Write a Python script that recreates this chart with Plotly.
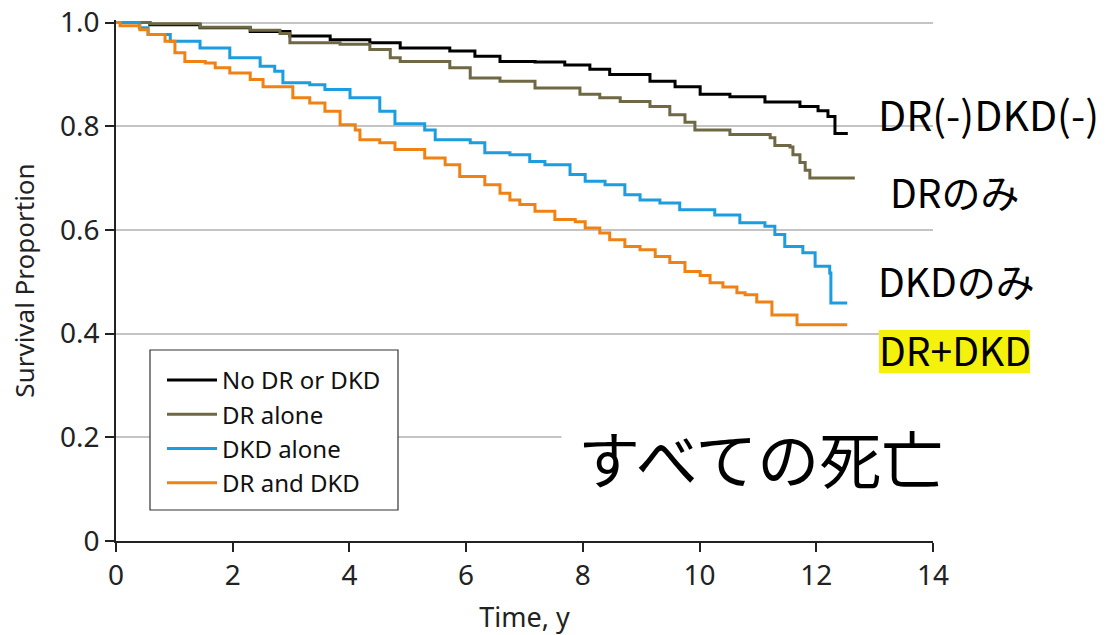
import plotly.graph_objects as go

# ---- data ----
t_none = [0, 0.58, 1.44, 2.30, 2.98, 3.67, 4.35, 4.87, 5.72, 6.15, 6.58, 7.18, 7.69, 8.12, 8.46, 9.15, 9.58, 10.01, 10.52, 11.12, 11.72, 12.03, 12.20, 12.32, 12.54]
s_none = [1.0, 0.996, 0.990, 0.983, 0.974, 0.967, 0.961, 0.951, 0.945, 0.935, 0.925, 0.924, 0.918, 0.910, 0.900, 0.887, 0.876, 0.862, 0.857, 0.847, 0.838, 0.830, 0.819, 0.786, 0.786]

t_dr = [0, 0.58, 1.44, 2.30, 2.81, 2.98, 3.84, 4.35, 4.70, 4.87, 5.72, 6.07, 6.58, 7.18, 7.87, 7.95, 8.29, 8.64, 9.15, 9.49, 9.75, 9.92, 10.52, 11.21, 11.29, 11.55, 11.60, 11.72, 11.81, 11.89, 12.66]
s_dr = [1.0, 0.998, 0.991, 0.985, 0.979, 0.961, 0.958, 0.948, 0.932, 0.925, 0.913, 0.893, 0.887, 0.874, 0.874, 0.862, 0.855, 0.848, 0.838, 0.822, 0.808, 0.793, 0.784, 0.778, 0.763, 0.760, 0.745, 0.730, 0.715, 0.700, 0.700]

t_dkd = [0, 0.40, 0.55, 0.93, 1.44, 1.95, 2.47, 2.72, 2.86, 3.32, 3.58, 4.01, 4.52, 4.78, 5.29, 5.47, 6.07, 6.32, 6.75, 7.09, 7.35, 7.78, 8.04, 8.38, 8.72, 8.98, 9.32, 9.66, 10.26, 10.69, 11.12, 11.29, 11.46, 11.77, 11.98, 12.23, 12.25, 12.53]
s_dkd = [1.0, 0.990, 0.977, 0.964, 0.951, 0.932, 0.916, 0.906, 0.884, 0.880, 0.871, 0.855, 0.829, 0.805, 0.793, 0.774, 0.768, 0.749, 0.745, 0.732, 0.726, 0.707, 0.694, 0.687, 0.668, 0.658, 0.652, 0.639, 0.629, 0.614, 0.607, 0.591, 0.568, 0.556, 0.530, 0.517, 0.459, 0.459]

t_both = [0, 0.07, 0.41, 0.55, 0.84, 1.01, 1.18, 1.53, 1.70, 1.95, 2.30, 2.52, 3.03, 3.32, 3.58, 3.84, 4.10, 4.18, 4.52, 4.78, 5.29, 5.64, 5.89, 6.32, 6.58, 6.75, 6.92, 7.18, 7.52, 7.87, 8.04, 8.29, 8.46, 8.72, 8.98, 9.24, 9.49, 9.75, 10.01, 10.18, 10.40, 10.64, 10.78, 10.98, 11.24, 11.67, 12.53]
s_both = [1.0, 0.994, 0.986, 0.977, 0.964, 0.942, 0.925, 0.922, 0.913, 0.903, 0.890, 0.876, 0.855, 0.845, 0.829, 0.803, 0.793, 0.774, 0.768, 0.755, 0.739, 0.726, 0.703, 0.687, 0.671, 0.658, 0.649, 0.636, 0.620, 0.616, 0.604, 0.594, 0.581, 0.568, 0.562, 0.549, 0.537, 0.520, 0.512, 0.498, 0.490, 0.479, 0.475, 0.461, 0.436, 0.417, 0.417]

series_names = ["No DR or DKD", "DR alone", "DKD alone", "DR and DKD"]
series_colors = ["#000000", "#6f6845", "#1b9ddf", "#f08214"]

x_ticks = [0, 2, 4, 6, 8, 10, 12, 14]
y_ticks = [0, 0.2, 0.4, 0.6, 0.8, 1.0]
y_ticklabels = ["0", "0.2", "0.4", "0.6", "0.8", "1.0"]

FONT = "Noto Sans, Open Sans, DejaVu Sans, sans-serif"
JP = "Noto Sans CJK JP, Noto Sans, sans-serif"

L, R, T, B = 116, 174, 20, 94
W, H = 1107, 635
PW, PH = W - L - R, H - T - B


def px(xp):
    return (xp - L) / PW


def py(yp):
    return (H - B - yp) / PH


fig = go.Figure()
for (t, s), name, col in zip([(t_none, s_none), (t_dr, s_dr), (t_dkd, s_dkd), (t_both, s_both)],
                             series_names, series_colors):
    fig.add_trace(go.Scatter(x=t, y=s, mode="lines", name=name,
                             line=dict(color=col, width=3, shape="hv")))

fig.update_layout(
    width=W, height=H,
    margin=dict(l=L, r=R, t=T, b=B, autoexpand=False),
    plot_bgcolor="white", paper_bgcolor="white",
    font=dict(family=FONT, size=26, color="#222222"),
    showlegend=True,
    legend=dict(x=px(162), y=py(358), xanchor="left", yanchor="top",
                bgcolor="rgba(0,0,0,0)", borderwidth=0,
                font=dict(family=FONT, size=24, color="#111111"),
                itemwidth=50, tracegroupgap=0),
)
# legend frame
fig.add_shape(type="rect", xref="paper", yref="paper",
              x0=px(150), x1=px(398), y0=py(510), y1=py(350),
              fillcolor="white", line=dict(color="#333333", width=1.2), layer="above")
# yellow highlight behind "DR+DKD"
fig.add_shape(type="rect", xref="paper", yref="paper",
              x0=px(879), x1=px(1030), y0=py(373), y1=py(330),
              fillcolor="#f4f20c", line=dict(width=0), layer="above")

fig.update_xaxes(range=[0, 14], tickvals=x_ticks, showgrid=False, zeroline=False,
                 showline=True, linecolor="#222222", linewidth=1.5, automargin=False,
                 ticks="outside", ticklen=9, tickcolor="#222222", tickwidth=1.5,
                 title=dict(text="Time, y", standoff=19, font=dict(size=27)),
                 tickfont=dict(size=28))
fig.update_yaxes(range=[0, 1.005], tickvals=y_ticks, ticktext=y_ticklabels,
                 showgrid=True, gridcolor="#c4c4c4", gridwidth=2, zeroline=False,
                 showline=True, linecolor="#222222", linewidth=1.5, automargin=False,
                 ticks="outside", ticklen=9, tickcolor="#222222", tickwidth=1.5,
                 title=dict(text="Survival Proportion", standoff=18, font=dict(size=26)),
                 tickfont=dict(size=28))

ann = [
    dict(text="DR(-)DKD(-)", x=988, y=113, size=41),
    dict(text="DRのみ", x=955, y=191, size=39),
    dict(text="DKDのみ", x=957, y=280, size=39),
    dict(text="DR+DKD", x=955, y=349, size=39),
]
for a in ann:
    fig.add_annotation(text=a["text"], x=px(a["x"]), y=py(a["y"]), xref="paper", yref="paper",
                       xanchor="center", yanchor="middle", showarrow=False,
                       font=dict(family=JP, size=a["size"], color="black"), borderpad=0)

fig.add_annotation(text="すべての死亡", x=px(760), y=py(457), xref="paper", yref="paper",
                   xanchor="center", yanchor="middle", showarrow=False,
                   font=dict(family=JP, size=62, color="black"),
                   bgcolor="white", borderpad=16)

fig.write_html("out.html", config={"displayModeBar": False},
               post_script="document.body.style.margin='0';document.body.style.overflow='hidden';")
